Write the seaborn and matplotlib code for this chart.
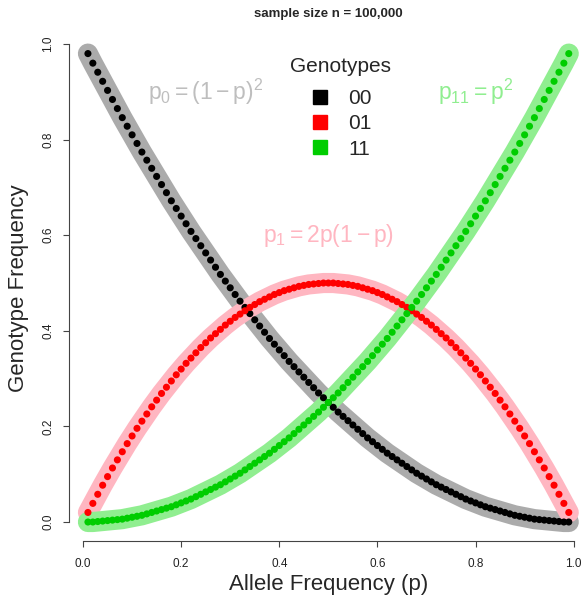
import pandas as pd
import matplotlib.pyplot as plt
from matplotlib.lines import Line2D
import seaborn as sns

# allele frequency p (0.01 ... 0.99)
p = [round(k / 100, 2) for k in range(1, 100)]

freq_11 = [0.000, 0.000, 0.001, 0.002, 0.003, 0.004, 0.005, 0.006, 0.008, 0.010,
           0.012, 0.014, 0.017, 0.020, 0.023, 0.026, 0.029, 0.032, 0.036, 0.040,
           0.044, 0.048, 0.053, 0.058, 0.063, 0.068, 0.073, 0.078, 0.084, 0.090,
           0.096, 0.102, 0.109, 0.116, 0.123, 0.130, 0.137, 0.144, 0.152, 0.160,
           0.168, 0.176, 0.185, 0.194, 0.203, 0.212, 0.221, 0.230, 0.240, 0.250,
           0.260, 0.270, 0.281, 0.292, 0.303, 0.314, 0.325, 0.336, 0.348, 0.360,
           0.372, 0.384, 0.397, 0.410, 0.423, 0.436, 0.449, 0.462, 0.476, 0.490,
           0.504, 0.518, 0.533, 0.548, 0.563, 0.578, 0.593, 0.608, 0.624, 0.640,
           0.656, 0.672, 0.689, 0.706, 0.723, 0.740, 0.757, 0.774, 0.792, 0.810,
           0.828, 0.846, 0.865, 0.884, 0.903, 0.922, 0.941, 0.960, 0.980]

freq_00 = [0.980, 0.960, 0.941, 0.922, 0.903, 0.884, 0.865, 0.846, 0.828, 0.810,
           0.792, 0.774, 0.757, 0.740, 0.723, 0.706, 0.689, 0.672, 0.656, 0.640,
           0.624, 0.608, 0.593, 0.578, 0.563, 0.548, 0.533, 0.518, 0.504, 0.490,
           0.476, 0.462, 0.449, 0.436, 0.423, 0.410, 0.397, 0.384, 0.372, 0.360,
           0.348, 0.336, 0.325, 0.314, 0.303, 0.292, 0.281, 0.270, 0.260, 0.250,
           0.240, 0.230, 0.221, 0.212, 0.203, 0.194, 0.185, 0.176, 0.168, 0.160,
           0.152, 0.144, 0.137, 0.130, 0.123, 0.116, 0.109, 0.102, 0.096, 0.090,
           0.084, 0.078, 0.073, 0.068, 0.063, 0.058, 0.053, 0.048, 0.044, 0.040,
           0.036, 0.032, 0.029, 0.026, 0.023, 0.020, 0.017, 0.014, 0.012, 0.010,
           0.008, 0.006, 0.005, 0.004, 0.003, 0.002, 0.001, 0.000, 0.000]

freq_01 = [0.020, 0.039, 0.058, 0.077, 0.095, 0.113, 0.130, 0.147, 0.164, 0.180,
           0.196, 0.211, 0.226, 0.241, 0.255, 0.269, 0.282, 0.295, 0.308, 0.320,
           0.332, 0.343, 0.354, 0.365, 0.375, 0.385, 0.394, 0.403, 0.412, 0.420,
           0.428, 0.435, 0.442, 0.449, 0.455, 0.461, 0.466, 0.471, 0.476, 0.480,
           0.484, 0.487, 0.490, 0.493, 0.495, 0.497, 0.498, 0.499, 0.500, 0.500,
           0.500, 0.499, 0.498, 0.497, 0.495, 0.493, 0.490, 0.487, 0.484, 0.480,
           0.476, 0.471, 0.466, 0.461, 0.455, 0.449, 0.442, 0.435, 0.428, 0.420,
           0.412, 0.403, 0.394, 0.385, 0.375, 0.365, 0.354, 0.343, 0.332, 0.320,
           0.308, 0.295, 0.282, 0.269, 0.255, 0.241, 0.226, 0.211, 0.196, 0.180,
           0.164, 0.147, 0.130, 0.113, 0.095, 0.077, 0.058, 0.039, 0.020]

genotypes = ['00', '01', '11']
dot_colors = {'00': 'black', '01': '#FF0000', '11': '#00CD00'}
band_colors = {'00': '#ABABAB', '01': '#FFB6C1', '11': '#90EE90'}
x_ticks = [0.0, 0.2, 0.4, 0.6, 0.8, 1.0]
y_ticks = [0.0, 0.2, 0.4, 0.6, 0.8, 1.0]

df = pd.concat([
    pd.DataFrame({'p': p, 'freq': freq_00, 'Genotype': '00'}),
    pd.DataFrame({'p': p, 'freq': freq_01, 'Genotype': '01'}),
    pd.DataFrame({'p': p, 'freq': freq_11, 'Genotype': '11'}),
])

sns.set_style('ticks')
plt.rcParams['font.family'] = ['Liberation Sans', 'DejaVu Sans']
plt.rcParams['mathtext.fontset'] = 'custom'
plt.rcParams['mathtext.rm'] = 'Liberation Sans'
plt.rcParams['mathtext.it'] = 'Liberation Sans'

fig = plt.figure(figsize=(5.84, 5.98), dpi=100)
ax = fig.add_axes([68.7 / 584, 1 - 540.7 / 598, (588 - 68.7) / 584, (540.7 - 34.8) / 598])

# thick theoretical bands
for g in genotypes:
    sns.lineplot(data=df[df['Genotype'] == g], x='p', y='freq', color=band_colors[g],
                 linewidth=14.5, solid_capstyle='round', sort=False, ax=ax,
                 legend=False, clip_on=False)

# observed points
sns.scatterplot(data=df, x='p', y='freq', hue='Genotype', palette=dot_colors,
                s=26, linewidth=0, ax=ax, legend=False, clip_on=False, zorder=5)

ax.set_xlim(-0.0292, 1.0292)
ax.set_ylim(-0.0391, 1.0193)
ax.set_xticks(x_ticks)
ax.set_yticks(y_ticks)
ax.set_xticklabels([f'{v:.1f}' for v in x_ticks], fontsize=8.5)
ax.set_yticklabels([f'{v:.1f}' for v in y_ticks], fontsize=8.5, rotation=90, va='center')
ax.tick_params(length=4.5, width=0.8, color='#444444', labelcolor='#222222')
ax.tick_params(axis='x', pad=8)
ax.tick_params(axis='y', pad=6)

sns.despine(ax=ax)
for side in ['left', 'bottom']:
    ax.spines[side].set_bounds(0, 1)
    ax.spines[side].set_color('#444444')
    ax.spines[side].set_linewidth(0.8)

ax.set_xlabel('Allele Frequency (p)', fontsize=16)
ax.set_ylabel('Genotype Frequency', fontsize=16)
ax.xaxis.set_label_coords(0.5, -0.066)
ax.yaxis.set_label_coords(-0.076, 0.5)

fig.text(328 / 584, 1 - 14 / 598, 'sample size n = 100,000', fontsize=9.5,
         fontweight='bold', ha='center', va='center')

ax.text(0.25, 0.9, r'$\mathregular{p_0 = (1 - p)^2}$', color='#BEBEBE',
        fontsize=16.5, ha='center', va='center')
ax.text(0.5, 0.6, r'$\mathregular{p_1 = 2p(1 - p)}$', color='#FFB6C1',
        fontsize=16.5, ha='center', va='center')
ax.text(0.8, 0.9, r'$\mathregular{p_{11} = p^2}$', color='#90EE90',
        fontsize=16.5, ha='center', va='center')

handles = [Line2D([], [], marker='s', linestyle='', color=dot_colors[g], markersize=10)
           for g in genotypes]
leg = ax.legend(handles, genotypes, title='Genotypes', fontsize=15, title_fontsize=15,
                frameon=False, loc='upper center',
                bbox_to_anchor=(341 / 584, 1 - 57 / 598), bbox_transform=fig.transFigure,
                handlelength=1.0, handletextpad=0.85, labelspacing=0.3,
                borderpad=0, borderaxespad=0)
leg._legend_box.sep = leg._legend_box.sep + 5

fig.savefig('out.png', dpi=100)
